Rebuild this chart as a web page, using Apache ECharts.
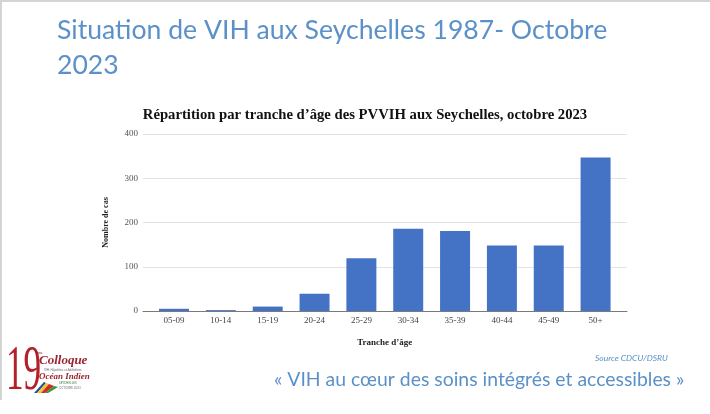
<!DOCTYPE html>
<html>
<head>
<meta charset="utf-8">
<script src="https://cdn.jsdelivr.net/npm/echarts@6/dist/echarts.min.js"></script>
<style>
html,body{margin:0;padding:0;background:#fff;}
#chart{width:710px;height:414px;}
</style>
</head>
<body>
<div id="chart"></div>
<script>
const categories = ['05-09','10-14','15-19','20-24','25-29','30-34','35-39','40-44','45-49','50+'];
const values = [5, 2, 10, 39, 119, 186, 181, 148, 148, 347];
const yTicks = [0, 100, 200, 300, 400];

const slideTitle = 'Situation de VIH aux Seychelles 1987- Octobre\n2023';
const chartTitle = 'Répartition par tranche d\u2019âge des PVVIH aux Seychelles, octobre 2023';
const yName = 'Nombre de cas';
const xName = 'Tranche d\u2019âge';
const sourceText = 'Source CDCU/DSRU';
const quoteText = '« VIH au cœur des soins intégrés et accessibles »';

const blue = '#5b91c8';
const serif = '"Liberation Serif", "Times New Roman", serif';
const sans = 'Lato, "Open Sans", sans-serif';

const chart = echarts.init(document.getElementById('chart'), null, {renderer: 'canvas'});
const yMin = yTicks[0], yMax = yTicks[yTicks.length - 1], yStep = yTicks[1] - yTicks[0];

chart.setOption({
  backgroundColor: '#ffffff',
  animation: false,
  title: [
    {
      text: slideTitle, left: 57, top: 13, padding: 0,
      textStyle: {fontFamily: sans, fontSize: 26.6, fontWeight: 'normal', color: blue, lineHeight: 35}
    },
    {
      text: chartTitle, left: 365, top: 108, textAlign: 'center', padding: 0,
      textStyle: {fontFamily: serif, fontSize: 14.7, fontWeight: 'bold', color: '#111'}
    }
  ],
  grid: [
    {left: 143, right: 83, top: 134, bottom: 103},
    {left: 150.6, right: 91, top: 134, bottom: 103}
  ],
  xAxis: [
    {
      gridIndex: 0, type: 'category', data: categories,
      axisLine: {show: true, lineStyle: {color: '#7a7a7a', width: 1}},
      axisTick: {show: false}, axisLabel: {show: false}, splitLine: {show: false}
    },
    {
      gridIndex: 1, type: 'category', data: categories,
      axisLine: {show: false}, axisTick: {show: false},
      axisLabel: {fontFamily: serif, fontSize: 9, color: '#444', margin: 5},
      name: xName, nameLocation: 'middle', nameGap: 27,
      nameTextStyle: {fontFamily: serif, fontSize: 9, fontWeight: 'bold', color: '#222'}
    }
  ],
  yAxis: [
    {
      gridIndex: 0, type: 'value', min: yMin, max: yMax, interval: yStep,
      axisLine: {show: false}, axisTick: {show: false},
      axisLabel: {fontFamily: serif, fontSize: 9, color: '#555', margin: 5},
      splitLine: {show: true, lineStyle: {color: '#e3e3e3', width: 1}},
      name: yName, nameLocation: 'middle', nameGap: 33, nameRotate: 90,
      nameTextStyle: {fontFamily: serif, fontSize: 8, fontWeight: 'bold', color: '#222'}
    },
    {
      gridIndex: 1, type: 'value', min: yMin, max: yMax, interval: yStep,
      show: false
    }
  ],
  series: [
    {
      type: 'bar', xAxisIndex: 1, yAxisIndex: 1, data: values,
      barCategoryGap: '36%',
      itemStyle: {color: '#4472c4'}
    }
  ],
  graphic: [
    {type: 'line', shape: {x1: 0, y1: 1, x2: 710, y2: 1}, style: {stroke: '#d4d4d4', lineWidth: 2}},
    {type: 'line', shape: {x1: 1, y1: 0, x2: 1, y2: 400}, style: {stroke: '#d4d4d4', lineWidth: 2}},
    {type: 'text', left: 595, top: 354, style: {text: sourceText, fontFamily: sans, fontStyle: 'italic', fontSize: 8.5, fill: blue}},
    {type: 'text', left: 274, top: 370, style: {text: quoteText, fontFamily: sans, fontSize: 19.4, fill: blue}},
    {type: 'group', left: 6, top: 340, children: [
      {type: 'text', x: 2, y: -6, scaleX: 0.55, style: {text: '19', fontFamily: serif, fontSize: 64, fill: '#b3202a'}},
      {type: 'text', x: 32, y: 5, style: {text: 'ème', fontFamily: serif, fontSize: 4, fill: '#8a1c22'}},
      {type: 'text', x: 35, y: 8, style: {text: 'Colloque', fontFamily: serif, fontStyle: 'italic', fontWeight: 'bold', fontSize: 13, fill: '#9c2530'}},
      {type: 'text', x: 40, y: 23, style: {text: 'VIH, Hépatites et Addictions', fontFamily: sans, fontSize: 3, fill: '#666'}},
      {type: 'text', x: 35, y: 26, style: {text: 'Océan Indien', fontFamily: serif, fontStyle: 'italic', fontWeight: 'bold', fontSize: 9, fill: '#9c2530'}},
      {type: 'text', x: 55, y: 36, style: {text: 'SEYCHELLES', fontFamily: sans, fontSize: 3, fill: '#3a7a3a'}},
      {type: 'text', x: 55, y: 41, style: {text: 'OCTOBRE 2023', fontFamily: sans, fontSize: 3, fill: '#777'}},
      {type: 'polygon', shape: {points: [[30,47],[40,36],[42,37],[33,47]]}, style: {fill: '#1f4fa0'}},
      {type: 'polygon', shape: {points: [[33,47],[42,37],[45,38],[37,47]]}, style: {fill: '#f4c430'}},
      {type: 'polygon', shape: {points: [[37,47],[45,38],[50,40],[41,47]]}, style: {fill: '#d62828'}},
      {type: 'polygon', shape: {points: [[41,47],[50,40],[54,41],[44,47]]}, style: {fill: '#2f9a3a'}}
    ]}
  ]
});
</script>
</body>
</html>
